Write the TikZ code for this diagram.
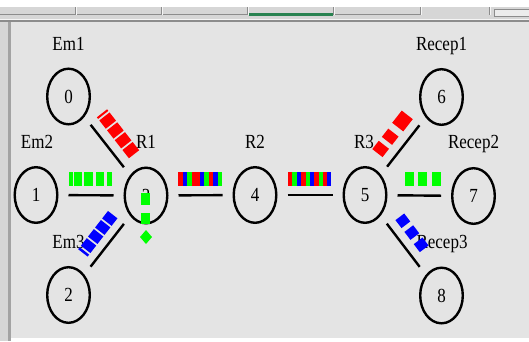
\documentclass[tikz,border=0pt]{standalone}
\usepackage{fontspec}
\setmainfont{Liberation Serif}
\usetikzlibrary{shapes.geometric,calc}
\definecolor{canvasbg}{RGB}{228,228,228}
\definecolor{barbg}{RGB}{214,214,214}
\definecolor{barline}{RGB}{140,140,140}
\definecolor{barlight}{RGB}{245,245,245}
\definecolor{tabgreen}{RGB}{40,130,80}
\definecolor{pred}{RGB}{255,0,0}
\definecolor{pgreen}{RGB}{0,255,0}
\definecolor{pblue}{RGB}{0,0,255}
\newcommand{\namtext}[1]{\scalebox{0.85}[1]{#1}}
\begin{document}
\begin{tikzpicture}[x=1pt,y=-1pt,
  netnode/.style={ellipse, draw=black, line width=2.4pt, minimum width=42.6pt, minimum height=55.6pt, inner sep=0pt, font=\fontsize{20}{20}\selectfont},
  link/.style={line width=2.4pt, shorten <=10pt, shorten >=10pt},
  lbl/.style={inner sep=0pt, anchor=base, font=\fontsize{20}{20}\selectfont}]
% frame and window chrome
\useasboundingbox (0,0) rectangle (529,341);
\fill[white] (0,0) rectangle (529,341);
\fill[barbg] (0,7) rectangle (529,22);
\fill[barline] (0,13.5) rectangle (421,15);
\fill[barline] (0,19.5) rectangle (529,22);
\fill[barlight] (0,18.5) rectangle (529,19.5);
\foreach \bx in {76,162,248,334,421,490} {
  \fill[barline] (\bx-1,7) rectangle (\bx,15);
  \fill[barlight] (\bx,7) rectangle (\bx+1,15);
}
\fill[tabgreen] (249,13) rectangle (333,15.5);
\draw[barline, fill=barlight!70!barbg] (494,9.5) rectangle (529,16);
\fill[barbg] (0,22) rectangle (8,341);
\fill[barline!80] (8,22) rectangle (11,341);
\fill[canvasbg] (11,22) rectangle (529,338);
% nodes
\node[netnode] (n0) at (68.5,96.5) {\namtext{0}};
\node[netnode] (n1) at (36,195) {\namtext{1}};
\node[netnode] (n2) at (68.5,295) {\namtext{2}};
\node[netnode] (n3) at (146,195.5) {\namtext{3}};
\node[netnode] (n4) at (255,195) {\namtext{4}};
\node[netnode] (n5) at (365,195) {\namtext{5}};
\node[netnode] (n6) at (441.5,97) {\namtext{6}};
\node[netnode] (n7) at (473.5,196) {\namtext{7}};
\node[netnode] (n8) at (441.5,295.5) {\namtext{8}};
% links
\draw[link] (n0) -- (n3);
\draw[link] (n1) -- (n3);
\draw[link] (n2) -- (n3);
\draw[link] (n3) -- (n4);
\draw[link] (n4) -- (n5);
\draw[link] (n5) -- (n6);
\draw[link] (n5) -- (n7);
\draw[link] (n5) -- (n8);
% labels
\node[lbl] (lem1) at (68.5,50) {\namtext{Em1}};
\node[lbl] (lem2) at (37,148) {\namtext{Em2}};
\node[lbl] (lr1) at (146,148) {\namtext{R1}};
\node[lbl] (lem3) at (68.5,248) {\namtext{Em3}};
\node[lbl] (lr2) at (255,148) {\namtext{R2}};
\node[lbl] (lr3) at (364,148) {\namtext{R3}};
\node[lbl] (lrc1) at (441.5,50) {\namtext{Recep1}};
\node[lbl] (lrc2) at (473.5,148) {\namtext{Recep2}};
\node[lbl] (lrc3) at (442,248) {\namtext{Recep3}};
% packets on link 1-3 (green)
\foreach \a/\b in {69.3/72.7,74/81.7,84/92.7,95.7/104,106.7/112.3}
  \fill[pgreen] (\a,172) rectangle (\b,186);
% packets on link 3-4 (mixed)
\foreach \a/\b/\c in {178/182.7/pred,182.7/186.7/pblue,186.7/191.7/pgreen,191.7/200/pred,200/204.3/pblue,204.3/209/pgreen,209/213.3/pred,213.3/217.7/pblue,217.7/222.3/pgreen}
  \fill[\c] (\a,172) rectangle (\b,186);
% packets on link 4-5 (mixed)
\foreach \a/\b/\c in {287.7/291.7/pred,291.7/296.7/pgreen,296.7/300.7/pblue,300.7/305.7/pred,305.7/310/pgreen,310/314/pblue,314/319/pred,319/323.3/pgreen,323.3/326.7/pred,326.7/331/pblue}
  \fill[\c] (\a,172) rectangle (\b,186);
% packets on link 5-7 (green)
\foreach \a in {405,418,432}
  \fill[pgreen] (\a,172) rectangle ({\a+9},186);
% packets on link 0-3 (red)
\begin{scope}[shift={($(n0)!0.5!(n3)$)}, rotate=-51.95]
  \fill[pred] (-29,-22.5) rectangle (-27,-9.5);
  \foreach \a in {-25,-12.5,0,12.5}
    \fill[pred] (\a,-22.5) rectangle ({\a+10.5},-9.5);
\end{scope}
% packets on link 2-3 (blue)
\begin{scope}[shift={($(n2)!0.5!(n3)$)}, rotate=52.08]
  \fill[pblue] (-21,-20.5) rectangle (-18.5,-8.5);
  \foreach \a in {-16.5,-5,6.5,18}
    \fill[pblue] (\a,-20.5) rectangle ({\a+9.5},-8.5);
\end{scope}
% packets on link 5-6 (red)
\begin{scope}[shift={($(n5)!0.5!(n6)$)}, rotate=52.02]
  \fill[pred] (-21.5,-22.5) rectangle (-11,-9.5);
  \fill[pred] (-6,-22.5) rectangle (4.5,-9.5);
  \fill[pred] (11.5,-23) rectangle (27,-9);
\end{scope}
% packets on link 5-8 (blue)
\begin{scope}[shift={($(n5)!0.5!(n8)$)}, rotate=-52.72]
  \foreach \a in {-19.7,-4.9,10.5}
    \fill[pblue] ({\a-5},-20) rectangle ({\a+5},-9);
\end{scope}
% dropped packets at node 3
\fill[pgreen] (141,193) rectangle (150,205);
\fill[pgreen] (141,213) rectangle (150,224);
\fill[pgreen] (146,230) -- (152,237) -- (146,244) -- (140,237) -- cycle;
\end{tikzpicture}
\end{document}
